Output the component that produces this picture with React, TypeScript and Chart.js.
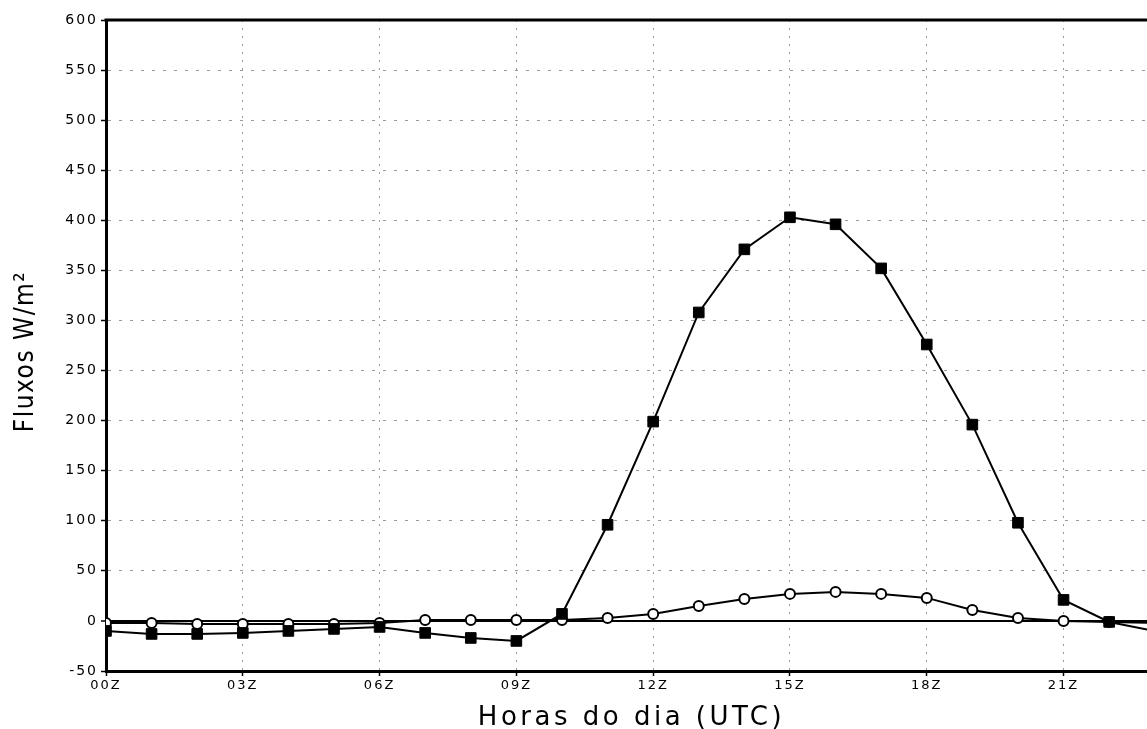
import { useEffect, useRef } from 'react';
import { Chart, registerables } from 'chart.js';

Chart.register(...registerables);

// ---- data ----
const hours = [0, 1, 2, 3, 4, 5, 6, 7, 8, 9, 10, 11, 12, 13, 14, 15, 16, 17, 18, 19, 20, 21, 22, 23];
const sensibleFlux = [-10, -13, -13, -12, -10, -8, -6, -12, -17, -20, 7, 96, 199, 308, 371, 403, 396, 352, 276, 196, 98, 21, -1, -10];
const latentFlux = [-2, -2, -3, -3, -3, -3, -2, 1, 1, 1, 1, 3, 7, 15, 22, 27, 29, 27, 23, 11, 3, 0, -1, -2];
const xTickValues = [0, 3, 6, 9, 12, 15, 18, 21];
const xTickLabels = ['00Z', '03Z', '06Z', '09Z', '12Z', '15Z', '18Z', '21Z'];
const yMin = -50;
const yMax = 600;
const yStep = 50;
const xMin = 0;
const xMax = 22.83;
const xTitle = 'Horas do dia (UTC)';
const yTitle = 'Fluxos W/m²';

export default function App() {
  const ref = useRef<HTMLCanvasElement>(null);

  useEffect(() => {
    document.body.style.margin = '0';
    const canvas = ref.current;
    if (!canvas) return;

    const framePlugin = {
      id: 'frame',
      beforeDraw(chart: any) {
        (chart.ctx as any).letterSpacing = '2px';
      },
      afterDraw(chart: any) {
        const ctx = chart.ctx as any;
        const ca = chart.chartArea;
        ctx.save();
        ctx.letterSpacing = '0px';
        ctx.strokeStyle = '#000';
        ctx.lineWidth = 3;
        ctx.setLineDash([]);
        ctx.beginPath();
        ctx.moveTo(ca.left - 1.5, ca.top);
        ctx.lineTo(ca.right, ca.top);
        ctx.stroke();

        ctx.fillStyle = '#000';
        ctx.textBaseline = 'alphabetic';
        ctx.textAlign = 'center';
        ctx.font = '26px "DejaVu Sans"';
        ctx.letterSpacing = '3.5px';
        ctx.fillText(xTitle, (ca.left + ca.right) / 2 + 5, chart.height - 4);

        ctx.font = '26px "DejaVu Sans Condensed", "DejaVu Sans"';
        ctx.letterSpacing = '1.5px';
        ctx.translate(33, (ca.top + ca.bottom) / 2 + 6);
        ctx.rotate(-Math.PI / 2);
        ctx.fillText(yTitle, 0, 0);
        ctx.restore();
      },
    };

    const chart = new Chart(canvas, {
      type: 'line',
      data: {
        datasets: [
          {
            label: 'sensible',
            data: hours.map((h, i) => ({ x: h, y: sensibleFlux[i] })),
            borderColor: '#000',
            borderWidth: 2,
            pointStyle: 'rect',
            pointRadius: 7.5,
            pointBackgroundColor: '#000',
            pointBorderColor: '#000',
            pointBorderWidth: 1,
            tension: 0,
          },
          {
            label: 'latent',
            data: hours.map((h, i) => ({ x: h, y: latentFlux[i] })),
            borderColor: '#000',
            borderWidth: 2,
            pointStyle: 'circle',
            pointRadius: 5,
            pointBackgroundColor: '#fff',
            pointBorderColor: '#000',
            pointBorderWidth: 2,
            tension: 0,
          },
        ],
      },
      options: {
        responsive: false,
        devicePixelRatio: 1,
        animation: false,
        layout: { autoPadding: false, padding: { top: 20, left: 0, right: 0, bottom: 0 } },
        plugins: {
          legend: { display: false },
          tooltip: { enabled: false },
        },
        scales: {
          x: {
            type: 'linear',
            min: xMin,
            max: xMax,
            afterBuildTicks: (s: any) => {
              s.ticks = xTickValues.map((v) => ({ value: v }));
            },
            afterFit: (s: any) => {
              s.height = 58;
              s.paddingLeft = 0;
              s.paddingRight = 0;
            },
            ticks: {
              autoSkip: false,
              maxRotation: 0,
              includeBounds: false,
              padding: 2,
              color: '#000',
              font: { family: 'DejaVu Sans', size: 13 },
              callback: (v: any) => {
                const i = xTickValues.indexOf(Number(v));
                return i >= 0 ? xTickLabels[i] : '';
              },
            },
            grid: {
              color: '#999',
              lineWidth: 1,
              drawTicks: true,
              tickLength: 5,
              tickColor: '#000',
              tickWidth: 1.5,
              tickBorderDash: [],
            },
            border: { display: true, color: '#000', width: 3, dash: [2, 6] },
          },
          y: {
            type: 'linear',
            min: yMin,
            max: yMax,
            afterFit: (s: any) => {
              s.width = 106;
            },
            ticks: {
              stepSize: yStep,
              padding: 3,
              color: '#000',
              font: { family: 'DejaVu Sans', size: 14 },
              callback: (v: any) => String(v),
            },
            grid: {
              color: (c: any) => (c.tick && c.tick.value === 0 ? '#000' : '#999'),
              lineWidth: (c: any) => (c.tick && c.tick.value === 0 ? 2 : 1),
              drawTicks: true,
              tickLength: 5,
              tickColor: '#000',
              tickWidth: 1.5,
              tickBorderDash: [],
            },
            border: {
              display: true,
              color: '#000',
              width: 3,
              dash: (c: any) => (c.tick && c.tick.value === 0 ? [] : [3, 8]),
            },
          },
        },
      },
      plugins: [framePlugin],
    } as any);

    return () => {
      chart.destroy();
    };
  }, []);

  return (
    <div style={{ position: 'fixed', left: 0, top: 0, width: 1147, height: 729, background: '#fff' }}>
      <canvas ref={ref} width={1147} height={729} style={{ display: 'block' }} />
    </div>
  );
}
